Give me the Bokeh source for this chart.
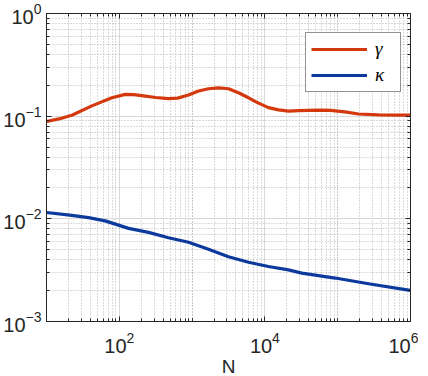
from bokeh.plotting import figure
from bokeh.models import FixedTicker, LogAxis, Legend, LegendItem, ColumnDataSource
from bokeh.embed import file_html
from bokeh.resources import INLINE

# ---- data ----
n_gamma = [10, 14.8, 22.3, 42, 79, 121, 158, 228, 316, 474, 631, 893, 1225,
           1679, 2307, 3162, 4335, 5957, 8166, 11194, 15382, 21086, 28973,
           39719, 56234, 79433, 125893, 193197, 363078, 630957, 1000000]
gamma = [0.0887, 0.094, 0.102, 0.126, 0.151, 0.163, 0.162, 0.157, 0.152,
         0.148, 0.150, 0.161, 0.176, 0.185, 0.189, 0.185, 0.169, 0.151, 0.134,
         0.121, 0.115, 0.112, 0.113, 0.114, 0.1145, 0.114, 0.110, 0.105,
         0.103, 0.1025, 0.1025]

n_kappa = [10, 22.3, 37.8, 64, 134, 252, 474, 893, 1225, 1679, 3162, 5957,
           11194, 21086, 32137, 92470, 264850, 991000]
kappa = [0.01153, 0.0108, 0.01026, 0.00955, 0.00807, 0.00738, 0.00654,
         0.00591, 0.00548, 0.00505, 0.00428, 0.00378, 0.00343, 0.00318,
         0.00296, 0.00265, 0.00233, 0.00201]

x_major = [1e2, 1e4, 1e6]
y_major = [1e-3, 1e-2, 1e-1, 1e0]

FONT = "Liberation Sans"
DARK = "#262626"
RED = "#D4380D"
BLUE = "#0B3A9C"

x_minor = [m * 10.0 ** k for k in range(1, 6) for m in range(1, 11)]
y_minor = [m * 10.0 ** k for k in range(-3, 0) for m in range(1, 11)]
xt = FixedTicker(ticks=x_major, minor_ticks=x_minor)
yt = FixedTicker(ticks=y_major, minor_ticks=y_minor)

p = figure(x_axis_type="log", y_axis_type="log",
           x_range=(10, 1e6), y_range=(1e-3, 1),
           frame_width=364, frame_height=308,
           min_border_left=46, min_border_right=8, min_border_top=13,
           min_border_bottom=2,
           output_backend="svg", toolbar_location=None,
           background_fill_color="white", border_fill_color="white")
p.outline_line_color = DARK
p.outline_line_width = 1

p.xaxis.ticker = xt
p.yaxis.ticker = yt

for ax in (p.xaxis[0], p.yaxis[0]):
    ax.axis_line_color = DARK
    ax.major_tick_line_color = DARK
    ax.minor_tick_line_color = DARK
    ax.major_tick_in = 5
    ax.major_tick_out = 0
    ax.minor_tick_in = 3
    ax.minor_tick_out = 0
    ax.major_label_text_font = FONT
    ax.major_label_text_font_size = "20px"
    ax.major_label_text_color = DARK

p.yaxis.major_label_standoff = 5
p.xaxis.major_label_standoff = 10
p.xaxis.axis_label = "N"
p.xaxis.axis_label_text_font = FONT
p.xaxis.axis_label_text_font_size = "19px"
p.xaxis.axis_label_text_font_style = "normal"
p.xaxis.axis_label_text_color = DARK
p.xaxis.axis_label_standoff = 0

# mirrored axes on top and right (ticks only)
for loc, tk in (("above", xt), ("right", yt)):
    a = LogAxis(ticker=tk)
    a.axis_line_color = DARK
    a.major_tick_line_color = DARK
    a.minor_tick_line_color = DARK
    a.major_tick_in = 5
    a.major_tick_out = 0
    a.minor_tick_in = 3
    a.minor_tick_out = 0
    a.major_label_text_font_size = "1px"
    a.major_label_text_alpha = 0
    a.major_label_standoff = 0
    p.add_layout(a, loc)

for g in (p.xgrid[0], p.ygrid[0]):
    g.ticker = xt if g.dimension == 0 else yt
    g.grid_line_color = "#d9d9d9"
    g.grid_line_width = 1
    g.minor_grid_line_color = "#b5b5b5"
    g.minor_grid_line_dash = "1 2"
    g.minor_grid_line_width = 1

src_g = ColumnDataSource(dict(x=n_gamma, y=gamma))
src_k = ColumnDataSource(dict(x=n_kappa, y=kappa))
rg = p.line("x", "y", source=src_g, line_color=RED, line_width=3.2,
            line_join="round")
rk = p.line("x", "y", source=src_k, line_color=BLUE, line_width=3.2,
            line_join="round")

legend = Legend(items=[LegendItem(label="γ", renderers=[rg]),
                       LegendItem(label="κ", renderers=[rk])],
                location=(259, 229), orientation="vertical",
                margin=0, padding=5, spacing=4,
                glyph_width=56, glyph_height=20,
                label_standoff=8, label_width=20,
                label_text_font="Liberation Serif", label_text_font_size="19px",
                label_text_font_style="italic", label_text_color="black",
                border_line_color=DARK, border_line_width=1,
                background_fill_color="white", background_fill_alpha=1)
p.add_layout(legend, "center")

open("out.html", "w").write(file_html(p, INLINE))
